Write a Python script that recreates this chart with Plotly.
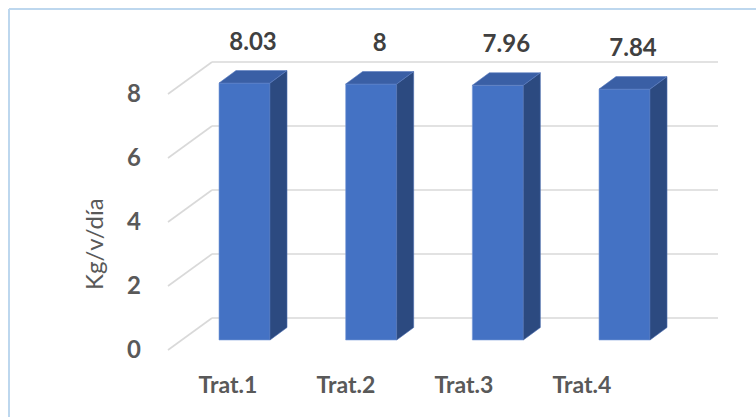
import plotly.graph_objects as go

categories = ["Trat.1", "Trat.2", "Trat.3", "Trat.4"]
values = [8.03, 8.0, 7.96, 7.84]
y_ticks = [0, 2, 4, 6, 8]
y_title = "Kg/v/día"

# ---- layout geometry (pixel-like x units, value y units) ----
W, H = 756, 417
ML, MB = 146, 55
PX_PER_UNIT = 32.0
FRONT0_PX = 350.0            # pixel y of value 0 on the front (tick) plane
plot_w = W - ML
plot_h = H - MB
y_range = [(FRONT0_PX - plot_h) / PX_PER_UNIT, FRONT0_PX / PX_PER_UNIT]

bar_base = 10 / PX_PER_UNIT          # bar front face sits slightly behind tick plane
wall_off = 1.0                       # back wall offset (value units)
slant_x0, slant_x1, wall_x1 = 168, 212, 718
bar_w = 51
bar_c0, bar_step = 244.5, 126.67
depth_dx, depth_dy = 17, 12.5 / PX_PER_UNIT
lab_c0, lab_step = 228, 118

front = "#4472C4"
side = "#2C4A80"
top = "#3A5FA5"
grey = "#595959"
FONT = "Lato"


def b(s):
    return f"<b>{s}</b>"


fig = go.Figure()

# gridlines on back wall + left wall (as shapes below traces)
shapes = []
for v in y_ticks:
    shapes.append(dict(type="line", xref="x", yref="y", x0=slant_x0, y0=v,
                       x1=slant_x1, y1=v + wall_off, layer="below",
                       line=dict(color="#D9D9D9", width=1.6)))
    shapes.append(dict(type="line", xref="x", yref="y", x0=slant_x1, y0=v + wall_off,
                       x1=wall_x1, y1=v + wall_off, layer="below",
                       line=dict(color="#D9D9D9", width=1.6)))

centers = [bar_c0 + bar_step * i for i in range(len(values))]

# side and top faces
for c, v in zip(centers, values):
    xl, xr = c - bar_w / 2, c + bar_w / 2
    b0, t = bar_base, bar_base + v
    fig.add_trace(go.Scatter(
        x=[xr, xr + depth_dx, xr + depth_dx, xr, xr],
        y=[b0, b0 + depth_dy, t + depth_dy, t, b0],
        fill="toself", fillcolor=side, mode="lines",
        line=dict(color="#4A6CB0", width=0.6), hoverinfo="skip", showlegend=False))
    fig.add_trace(go.Scatter(
        x=[xl, xl + depth_dx, xr + depth_dx, xr, xl],
        y=[t, t + depth_dy, t + depth_dy, t, t],
        fill="toself", fillcolor=top, mode="lines",
        line=dict(color="#5A7CC0", width=0.6), hoverinfo="skip", showlegend=False))

# front faces
fig.add_trace(go.Bar(
    x=centers, y=values, base=bar_base, width=bar_w,
    marker=dict(color=front, line=dict(color="#7A9AD8", width=0.6)),
    hoverinfo="skip", showlegend=False))

# data labels
fig.add_trace(go.Scatter(
    x=[c + depth_dx / 2 for c in centers],
    y=[bar_base + v + 1.23 for v in values],
    text=[b(f"{v:g}") for v in values], mode="text",
    textfont=dict(family=FONT, size=24, color="#404040"),
    hoverinfo="skip", showlegend=False))

# y axis title
fig.add_annotation(text=y_title, xref="paper", yref="paper",
                   x=(93 - ML) / plot_w, y=(plot_h - 244) / plot_h,
                   xanchor="center", yanchor="middle",
                   textangle=-90, showarrow=False,
                   font=dict(family=FONT, size=24, color=grey))

# chart border (left and top edges; the rest lies outside the picture)
bx, by = (9 - ML) / plot_w, (plot_h - 9) / plot_h
shapes.append(dict(type="line", xref="paper", yref="paper", x0=bx, x1=bx,
                   y0=(plot_h - 480) / plot_h, y1=by,
                   line=dict(color="#BDD7EE", width=2), layer="below"))
shapes.append(dict(type="line", xref="paper", yref="paper", x0=bx, x1=(820 - ML) / plot_w,
                   y0=by, y1=by, line=dict(color="#BDD7EE", width=2), layer="below"))

fig.update_layout(
    width=W, height=H,
    margin=dict(l=ML, r=0, t=0, b=MB),
    paper_bgcolor="white", plot_bgcolor="white",
    shapes=shapes,
    xaxis=dict(range=[ML, W], showgrid=False, zeroline=False, showline=False,
               tickmode="array",
               tickvals=[lab_c0 + lab_step * i for i in range(len(categories))],
               ticktext=[b(c) for c in categories], ticks="", ticklabelstandoff=7,
               tickfont=dict(family=FONT, size=23, color=grey)),
    yaxis=dict(range=y_range, showgrid=False, zeroline=False, showline=False,
               tickmode="array", tickvals=y_ticks, ticktext=[b(v) for v in y_ticks],
               ticks="", ticklabelstandoff=4,
               tickfont=dict(family=FONT, size=24, color=grey)),
)

fig.write_html("out.html")
